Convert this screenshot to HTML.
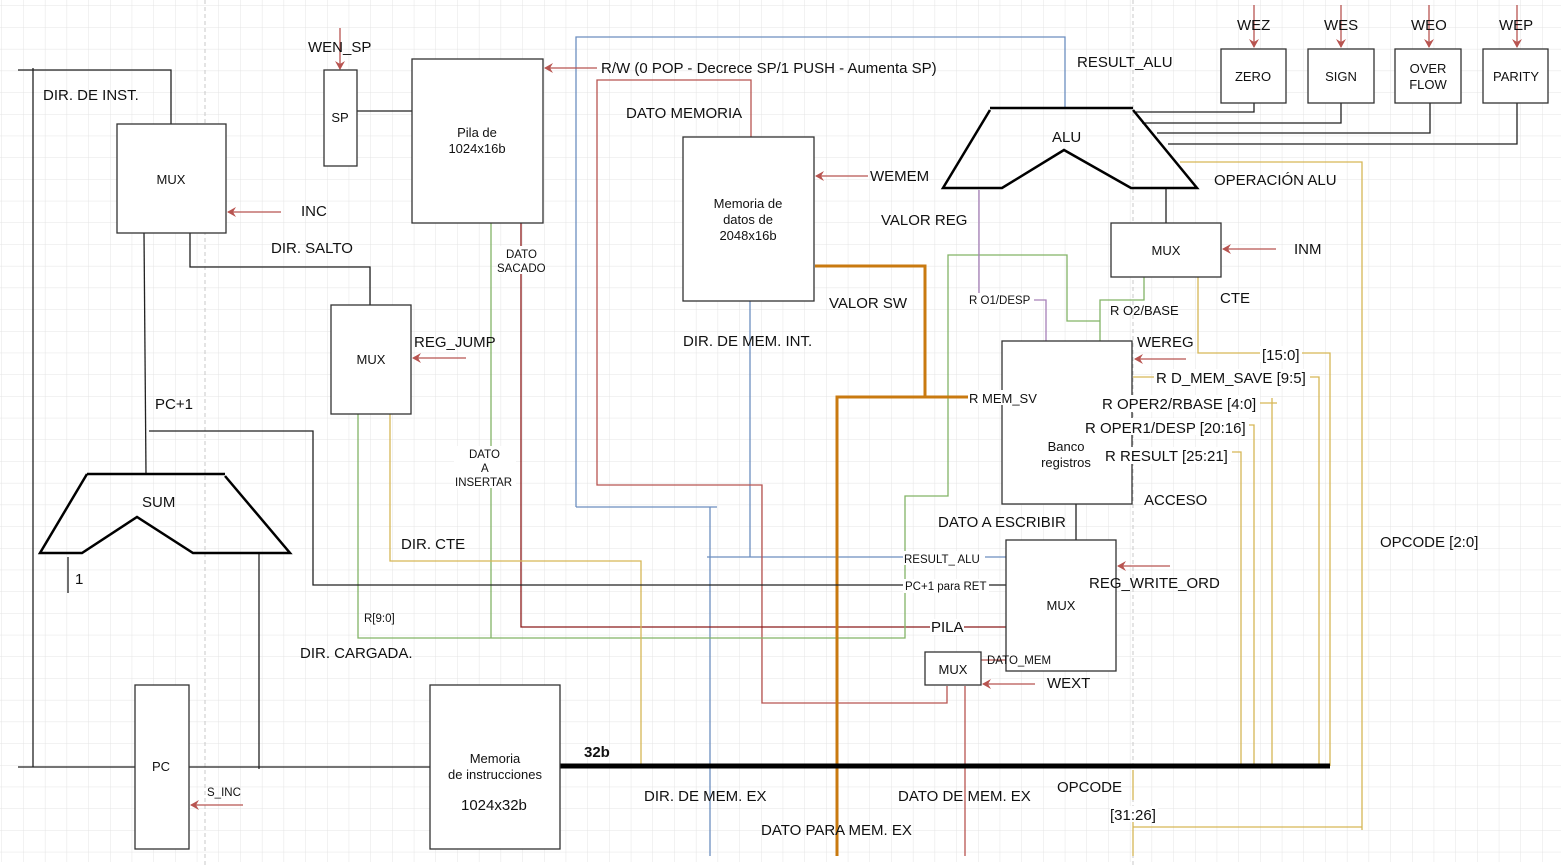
<!DOCTYPE html>
<html><head><meta charset="utf-8"><style>
html,body{margin:0;padding:0;background:#fff}
svg{display:block}
text{font-family:"Liberation Sans",sans-serif;fill:#111}
.b{font-size:15px}.m{font-size:13px}.s{font-size:11.5px}
</style></head><body>
<svg width="1561" height="866" viewBox="0 0 1561 866" xmlns="http://www.w3.org/2000/svg">
<defs>
<pattern id="g" width="21.7" height="21.7" patternUnits="userSpaceOnUse" x="2" y="6">
<path d="M21.7 0V21.7M0 21.7H21.7" fill="none" stroke="#e4e4e4" stroke-width="1"/>
</pattern>
<marker id="a" markerWidth="10" markerHeight="10" refX="8" refY="5" orient="auto" markerUnits="userSpaceOnUse"><path d="M0,0 L9,5 L0,10 L3,5z" fill="#b85450"/></marker>
</defs>
<rect width="1561" height="866" fill="#fff"/>
<rect width="1561" height="862" fill="url(#g)"/>
<line x1="205" y1="0" x2="205" y2="866" stroke="#c8c8c8" stroke-dasharray="4,3"/>
<line x1="1133" y1="0" x2="1133" y2="866" stroke="#c8c8c8" stroke-dasharray="4,3"/>

<g fill="none" stroke-width="1.3">
<polyline points="576,507 576,37 1065,37 1065,108" stroke="#6c8ebf"/>
<polyline points="576,507 717,507" stroke="#6c8ebf"/>
<line x1="710" y1="507" x2="710" y2="856" stroke="#6c8ebf"/>
<polyline points="750,301 750,557" stroke="#6c8ebf"/>
<line x1="707" y1="557" x2="1006" y2="557" stroke="#6c8ebf"/>
<polyline points="751,137 751,80 597,80 597,485 762,485 762,703 947,703 947,686" stroke="#b85450"/>
<polyline points="521,223 521,627 1006,627" stroke="#8b1a1a"/>
<line x1="965" y1="686" x2="965" y2="856" stroke="#b85450"/>
<line x1="981" y1="660" x2="1006" y2="660" stroke="#b85450"/>
<line x1="491" y1="223" x2="491" y2="638" stroke="#82b366"/>
<polyline points="358,414 358,638 905,638 905,496 948,496 948,255 1067,255 1067,321 1100,321" stroke="#82b366"/>
<polyline points="1144,277 1144,300 1100,300 1100,341" stroke="#82b366"/>
<polyline points="979,190 979,300 1046,300 1046,341" stroke="#a680b8"/>
<polyline points="390,414 390,561 641,561 641,766" stroke="#d6b656"/>
<polyline points="1180,162 1362,162 1362,830" stroke="#d6b656"/>
<polyline points="1133,827 1362,827" stroke="#d6b656"/>
<line x1="1133" y1="770" x2="1133" y2="800" stroke="#d6b656"/>
<line x1="1133" y1="822" x2="1133" y2="856" stroke="#d6b656"/>
<polyline points="1198,277 1198,353 1330,353 1330,766" stroke="#d6b656"/>
<polyline points="1133,377 1319,377 1319,766" stroke="#d6b656"/>
<polyline points="1260,403 1277,403" stroke="#d6b656"/>
<line x1="1272" y1="398" x2="1272" y2="766" stroke="#d6b656"/>
<polyline points="1248,425 1254,425 1254,766" stroke="#d6b656"/>
<polyline points="1232,452 1241,452 1241,766" stroke="#d6b656"/>
<polyline points="815,266 925,266 925,397" stroke="#c97a10" stroke-width="3"/>
<polyline points="837,856 837,397 970,397" stroke="#c97a10" stroke-width="3"/>
<g stroke="#222">
<polyline points="18,70 171,70 171,124"/>
<line x1="33" y1="68" x2="33" y2="767"/>
<line x1="18" y1="767" x2="135" y2="767"/>
<line x1="188" y1="767" x2="430" y2="767"/>
<line x1="144" y1="233" x2="146" y2="474"/>
<polyline points="190,233 190,267 370,267 370,305"/>
<polyline points="149,431 313,431 313,585 1006,585"/>
<line x1="68" y1="557" x2="68" y2="593"/>
<line x1="259" y1="553" x2="259" y2="769"/>
<line x1="357" y1="111" x2="413" y2="111"/>
<line x1="1076" y1="504" x2="1076" y2="540"/>
<line x1="1166" y1="188" x2="1166" y2="223"/>
<polyline points="1136,112 1254,112 1254,103"/>
<polyline points="1142,123 1341,123 1341,103"/>
<polyline points="1157,133 1430,133 1430,103"/>
<polyline points="1168,144 1517,144 1517,103"/>
</g>
<line x1="560" y1="766" x2="1330" y2="766" stroke="#000" stroke-width="5"/>
<g stroke="#000" stroke-width="2.5">
<polyline points="87,474 225,474"/>
<polyline points="87,474 40,553 82,553 137,517 193,553 290,553 225,476"/>
<polyline points="990,108 1133,108"/>
<polyline points="990,110 943,188 1002,188 1064,150 1131,188 1197,188 1133,110"/>
</g>
<g stroke="#b85450" stroke-width="1.3" marker-end="url(#a)">
<line x1="281" y1="212" x2="228" y2="212"/>
<line x1="466" y1="358" x2="413" y2="358"/>
<line x1="243" y1="805" x2="191" y2="805"/>
<line x1="340" y1="28" x2="340" y2="69"/>
<line x1="597" y1="68" x2="545" y2="68"/>
<line x1="868" y1="176" x2="816" y2="176"/>
<line x1="1276" y1="249" x2="1223" y2="249"/>
<line x1="1186" y1="359" x2="1135" y2="359"/>
<line x1="1170" y1="566" x2="1118" y2="566"/>
<line x1="1035" y1="684" x2="983" y2="684"/>
<line x1="1254" y1="5" x2="1254" y2="47"/>
<line x1="1341" y1="5" x2="1341" y2="47"/>
<line x1="1429" y1="5" x2="1429" y2="47"/>
<line x1="1517" y1="5" x2="1517" y2="47"/>
</g>
</g>
<g fill="#fff" stroke="#333" stroke-width="1.3">
<rect x="117" y="124" width="109" height="109"/>
<rect x="331" y="305" width="80" height="109"/>
<rect x="324" y="70" width="33" height="96"/>
<rect x="412" y="59" width="131" height="164"/>
<rect x="683" y="137" width="131" height="164"/>
<rect x="135" y="685" width="54" height="164"/>
<rect x="430" y="685" width="130" height="164"/>
<rect x="1002" y="341" width="130" height="163"/>
<rect x="1006" y="540" width="110" height="131"/>
<rect x="925" y="652" width="56" height="33"/>
<rect x="1111" y="223" width="110" height="54"/>
<rect x="1221" y="49" width="65" height="54"/>
<rect x="1308" y="49" width="66" height="54"/>
<rect x="1395" y="49" width="66" height="54"/>
<rect x="1483" y="49" width="65" height="54"/>
</g>
<line x1="1006" y1="627" x2="1006" y2="671" stroke="#333"/>
<g fill="#fff">
<rect x="500" y="246" width="44" height="28"/>
<rect x="454" y="446" width="62" height="42"/>
<rect x="968" y="293" width="66" height="14"/>
<rect x="968" y="390" width="72" height="15"/>
<rect x="903" y="551" width="82" height="14"/>
<rect x="903" y="579" width="86" height="14"/>
<rect x="930" y="619" width="34" height="16"/>
<rect x="1260" y="346" width="42" height="16"/>
<rect x="1154" y="369" width="156" height="17"/>
<rect x="1100" y="395" width="160" height="17"/>
<rect x="1083" y="418" width="166" height="17"/>
<rect x="1103" y="447" width="128" height="17"/>
<rect x="1110" y="806" width="48" height="16"/>
</g>
<g class="b">
<text x="43" y="100">DIR. DE INST.</text>
<text x="301" y="216">INC</text>
<text x="271" y="253">DIR. SALTO</text>
<text x="414" y="347">REG_JUMP</text>
<text x="155" y="409">PC+1</text>
<text x="142" y="507">SUM</text>
<text x="75" y="584">1</text>
<text x="401" y="549">DIR. CTE</text>
<text x="300" y="658">DIR. CARGADA.</text>
<text x="308" y="52">WEN_SP</text>
<text x="601" y="73">R/W (0 POP - Decrece SP/1 PUSH - Aumenta SP)</text>
<text x="626" y="118">DATO MEMORIA</text>
<text x="870" y="181">WEMEM</text>
<text x="881" y="225">VALOR REG</text>
<text x="829" y="308">VALOR SW</text>
<text x="683" y="346">DIR. DE MEM. INT.</text>
<text x="1077" y="67">RESULT_ALU</text>
<text x="1052" y="142">ALU</text>
<text x="1214" y="185">OPERACIÓN ALU</text>
<text x="1294" y="254">INM</text>
<text x="1220" y="303">CTE</text>
<text x="1137" y="347">WEREG</text>
<text x="1262" y="360">[15:0]</text>
<text x="1156" y="383">R D_MEM_SAVE [9:5]</text>
<text x="1102" y="409">R OPER2/RBASE [4:0]</text>
<text x="1085" y="433">R OPER1/DESP [20:16]</text>
<text x="1105" y="461">R RESULT [25:21]</text>
<text x="1144" y="505">ACCESO</text>
<text x="938" y="527">DATO A ESCRIBIR</text>
<text x="1089" y="588">REG_WRITE_ORD</text>
<text x="931" y="632">PILA</text>
<text x="1047" y="688">WEXT</text>
<text x="1380" y="547">OPCODE [2:0]</text>
<text x="1057" y="792">OPCODE</text>
<text x="1110" y="820">[31:26]</text>
<text x="644" y="801">DIR. DE MEM. EX</text>
<text x="898" y="801">DATO DE MEM. EX</text>
<text x="761" y="835">DATO PARA MEM. EX</text>
<text x="1237" y="30">WEZ</text>
<text x="1324" y="30">WES</text>
<text x="1411" y="30">WEO</text>
<text x="1499" y="30">WEP</text>
<text x="584" y="757" font-weight="bold">32b</text>
<text x="461" y="810">1024x32b</text>
</g>
<g class="m" text-anchor="middle">
<text x="171" y="184">MUX</text>
<text x="371" y="364">MUX</text>
<text x="340" y="122">SP</text>
<text x="477" y="137">Pila de</text><text x="477" y="153">1024x16b</text>
<text x="748" y="208">Memoria de</text><text x="748" y="224">datos de</text><text x="748" y="240">2048x16b</text>
<text x="161" y="771">PC</text>
<text x="495" y="763">Memoria</text><text x="495" y="779">de instrucciones</text>
<text x="1066" y="451">Banco</text><text x="1066" y="467">registros</text>
<text x="1061" y="610">MUX</text>
<text x="953" y="674">MUX</text>
<text x="1166" y="255">MUX</text>
<text x="1253" y="81">ZERO</text>
<text x="1341" y="81">SIGN</text>
<text x="1428" y="73">OVER</text><text x="1428" y="89">FLOW</text>
<text x="1516" y="81">PARITY</text>
</g>
<g class="s">
<text x="207" y="796">S_INC</text>
<text x="506" y="258">DATO</text><text x="497" y="272">SACADO</text>
<text x="469" y="458">DATO</text><text x="481" y="472">A</text><text x="455" y="486">INSERTAR</text>
<text x="364" y="622">R[9:0]</text>
<text x="969" y="304">R O1/DESP</text>
<text x="1110" y="315" style="font-size:13px">R O2/BASE</text>
<text x="969" y="403" style="font-size:13px">R MEM_SV</text>
<text x="904" y="563">RESULT_ ALU</text>
<text x="905" y="590">PC+1 para RET</text>
<text x="987" y="664">DATO_MEM</text>
</g>
</svg>
</body></html>
